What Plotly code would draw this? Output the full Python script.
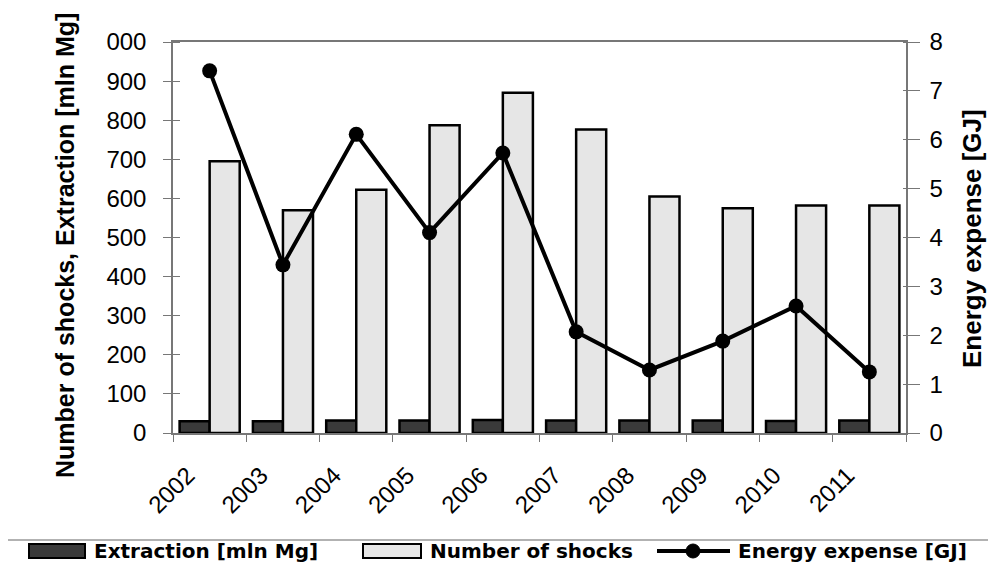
import plotly.graph_objects as go

years = ["2002", "2003", "2004", "2005", "2006", "2007", "2008", "2009", "2010", "2011"]
extraction = [30, 30, 32, 32, 33, 32, 32, 32, 31, 32]
shocks = [695, 570, 622, 787, 870, 776, 605, 575, 582, 582]
energy = [7.41, 3.44, 6.11, 4.10, 5.73, 2.07, 1.29, 1.88, 2.60, 1.25]

left_ticks = [0, 100, 200, 300, 400, 500, 600, 700, 800, 900, 1000]
left_ticktext = ["0", "100", "200", "300", "400", "500", "600", "700", "800", "900", "000"]
right_ticks = [0, 1, 2, 3, 4, 5, 6, 7, 8]

legend_names = ["Extraction [mln Mg]", "Number of shocks", "Energy expense [GJ]"]
left_title = "Number of shocks, Extraction [mln Mg]"
right_title = "Energy expense [GJ]"

FONT = "Liberation Sans, Arial, sans-serif"
W, H = 996, 574
OFF = 8  # page body margin of the browser
# target plot area in screen pixels
SL, SR, ST, SB = 173, 906, 42, 433
ML, MT = SL - OFF, ST - OFF
PW, PH = SR - SL, SB - ST
MR, MB = W - ML - PW, H - MT - PH


def px(x):
    return (x - SL) / PW


def py(y):
    return (SB - y) / PH


fig = go.Figure()
fig.add_trace(go.Bar(
    x=years, y=extraction, name=legend_names[0],
    marker=dict(color="#3a3a3a", line=dict(color="black", width=2.5)),
    yaxis="y"))
fig.add_trace(go.Bar(
    x=years, y=shocks, name=legend_names[1],
    marker=dict(color="#e6e6e6", line=dict(color="black", width=2.5)),
    yaxis="y"))
fig.add_trace(go.Scatter(
    x=years, y=energy, name=legend_names[2], mode="lines+markers",
    line=dict(color="black", width=4),
    marker=dict(color="black", size=15, symbol="circle"),
    yaxis="y2", cliponaxis=False))

# legend drawn manually (wide swatches as in the reference)
shapes = [
    dict(type="rect", xref="paper", yref="paper", x0=px(7), x1=px(994), y0=py(540), y1=py(590),
         line=dict(color="#999999", width=1.5), fillcolor="white", layer="below"),
    dict(type="rect", xref="paper", yref="paper", x0=px(29), x1=px(85), y0=py(544), y1=py(558),
         line=dict(color="black", width=2), fillcolor="#3a3a3a"),
    dict(type="rect", xref="paper", yref="paper", x0=px(363), x1=px(421), y0=py(544), y1=py(558),
         line=dict(color="black", width=2), fillcolor="#e6e6e6"),
    dict(type="line", xref="paper", yref="paper", x0=px(657), x1=px(730), y0=py(551), y1=py(551),
         line=dict(color="black", width=4)),
    dict(type="circle", xref="paper", yref="paper", x0=px(686), x1=px(700), y0=py(544), y1=py(558),
         line=dict(color="black", width=1), fillcolor="black"),
]
LEG_FONT = dict(family="DejaVu Sans, Liberation Sans, sans-serif", size=20)
annotations = [
    dict(text="<b>%s</b>" % legend_names[0], x=px(92), y=py(551), xref="paper", yref="paper",
         xanchor="left", yanchor="middle", showarrow=False, font=LEG_FONT),
    dict(text="<b>%s</b>" % legend_names[1], x=px(428), y=py(551), xref="paper", yref="paper",
         xanchor="left", yanchor="middle", showarrow=False, font=LEG_FONT),
    dict(text="<b>%s</b>" % legend_names[2], x=px(736), y=py(551), xref="paper", yref="paper",
         xanchor="left", yanchor="middle", showarrow=False, font=LEG_FONT),
    # axis titles
    dict(text="<b>%s</b>" % left_title, x=px(65), y=py(246), xref="paper", yref="paper",
         xanchor="center", yanchor="middle", textangle=-90, showarrow=False,
         font=dict(size=25)),
    dict(text="<b>%s</b>" % right_title, x=px(972), y=py(239), xref="paper", yref="paper",
         xanchor="center", yanchor="middle", textangle=-90, showarrow=False,
         font=dict(size=26)),
]

fig.update_layout(
    width=W, height=H,
    margin=dict(l=ML, r=MR, t=MT, b=MB),
    paper_bgcolor="white", plot_bgcolor="white",
    font=dict(family=FONT, color="black", size=24),
    barmode="group", bargap=0.18, bargroupgap=0,
    showlegend=False,
    shapes=shapes, annotations=annotations,
    xaxis=dict(
        type="category", range=[-0.5, len(years) - 0.5], autorange=False,
        tickangle=-45, tickson="boundaries",
        ticks="outside", ticklen=7, tickcolor="#777777",
        showline=True, linecolor="#777777", linewidth=1.5, mirror=True,
        showgrid=False, tickfont=dict(size=24), automargin=False,
        ticklabelstandoff=17, ticklabelshift=-22,
    ),
    yaxis=dict(
        range=[0, 1000], tickvals=left_ticks, ticktext=left_ticktext,
        ticks="outside", ticklen=8, tickcolor="#777777",
        minor=dict(tickvals=left_ticks, ticks="inside", ticklen=7, tickcolor="#777777"),
        showline=True, linecolor="#777777", linewidth=1.5,
        showgrid=False, zeroline=False, tickfont=dict(size=24), automargin=False,
        ticklabelstandoff=12,
    ),
    yaxis2=dict(
        range=[0, 8], tickvals=right_ticks, overlaying="y", side="right",
        ticks="outside", ticklen=12, tickcolor="#777777",
        minor=dict(tickvals=right_ticks, ticks="inside", ticklen=3, tickcolor="#777777"),
        showline=True, linecolor="#777777", linewidth=1.5,
        showgrid=False, zeroline=False, tickfont=dict(size=24), automargin=False,
        ticklabelstandoff=5,
    ),
)

fig.write_html("out.html")
